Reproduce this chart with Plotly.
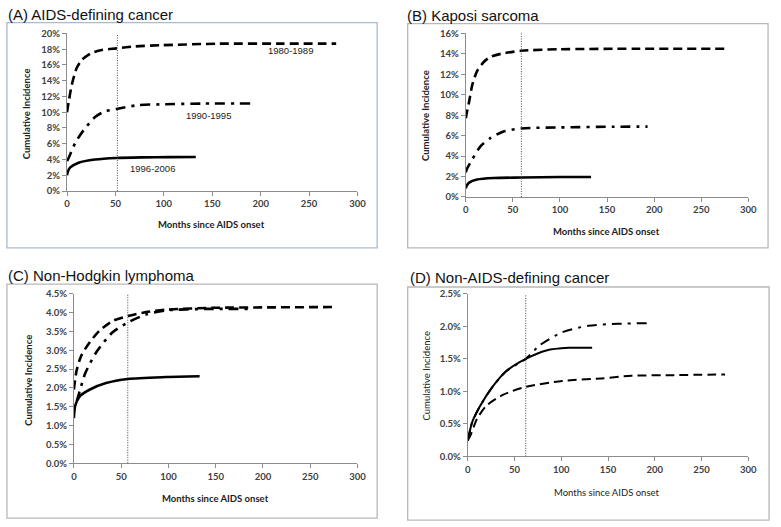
import plotly.graph_objects as go

# ---------------- data (cumulative incidence, %) ----------------
# Panel A: AIDS-defining cancer
a_8089_m = [0, 1.7, 5, 10, 15, 20, 25, 36, 51, 70, 97, 157, 220, 278]
a_8089_v = [10.0, 11.3, 13.5, 15.6, 16.6, 17.1, 17.5, 17.9, 18.1, 18.35, 18.5, 18.7, 18.7, 18.7]
a_9095_m = [0, 1.7, 8.5, 17, 29, 39, 51, 73, 97, 140, 190]
a_9095_v = [3.8, 4.2, 6.1, 7.7, 9.4, 10.1, 10.4, 10.9, 11.0, 11.1, 11.1]
a_9606_m = [0, 1, 3.4, 12, 29, 51, 79, 105, 133]
a_9606_v = [2.0, 2.5, 3.0, 3.6, 4.0, 4.2, 4.27, 4.3, 4.32]

# Panel B: Kaposi sarcoma
b_8089_m = [0, 1, 3.5, 7, 12, 19, 26, 37, 59, 99, 180, 278]
b_8089_v = [7.7, 8.2, 9.3, 11.0, 12.3, 13.2, 13.7, 14.0, 14.3, 14.45, 14.5, 14.5]
b_9095_m = [0, 1, 7, 16, 26, 40, 59, 99, 158, 193]
b_9095_v = [2.4, 2.7, 3.7, 5.0, 5.75, 6.4, 6.7, 6.8, 6.87, 6.88]
b_9606_m = [0, 1, 3.5, 12, 30, 59, 100, 133]
b_9606_v = [0.85, 1.1, 1.4, 1.7, 1.85, 1.9, 1.95, 1.95]

# Panel C: Non-Hodgkin lymphoma
c_8089_m = [0, 3, 8, 17, 27, 41, 57, 73, 97, 149, 200, 275]
c_8089_v = [1.96, 2.48, 2.87, 3.22, 3.52, 3.78, 3.91, 4.0, 4.08, 4.13, 4.14, 4.15]
c_9095_m = [3, 6, 12, 24, 41, 57, 76, 97, 140, 185]
c_9095_v = [1.65, 1.9, 2.39, 2.96, 3.48, 3.74, 3.95, 4.06, 4.1, 4.1]
c_9606_m = [0, 1.4, 6.6, 17, 34, 57, 97, 133]
c_9606_v = [1.2, 1.53, 1.79, 1.96, 2.13, 2.24, 2.29, 2.31]

# Panel D: Non-AIDS-defining cancer
d_8089_m = [0, 2.8, 10, 20, 38, 62, 101, 143, 175, 220, 275]
d_8089_v = [0.25, 0.32, 0.58, 0.78, 0.95, 1.07, 1.16, 1.2, 1.24, 1.25, 1.26]
d_9095_m = [0, 4.6, 13, 27, 41, 62, 77, 101, 129, 161, 193]
d_9095_v = [0.24, 0.52, 0.77, 1.08, 1.31, 1.5, 1.71, 1.91, 2.01, 2.04, 2.05]
d_9606_m = [0, 4.6, 13, 27, 41, 62, 84, 108, 133]
d_9606_v = [0.24, 0.52, 0.77, 1.08, 1.31, 1.5, 1.63, 1.67, 1.67]

median_months = [52, 59, 57, 62]
panel_titles = ["(A) AIDS-defining cancer", "(B) Kaposi sarcoma",
                "(C) Non-Hodgkin lymphoma", "(D) Non-AIDS-defining cancer"]
y_max = [20, 16, 4.5, 2.5]
y_step = [2, 2, 0.5, 0.5]
y_fmt = [".0f", ".0f", ".1f", ".1f"]
period_labels = ["1980-1989", "1990-1995", "1996-2006"]
label_pos_m = [231, 146, 88]
label_pos_v = [17.8, 9.6, 2.9]
x_title = "Months since AIDS onset"
y_title = "Cumulative Incidence"

W, H = 781, 527

def px(x):
    return x / W

def py(y):
    return 1 - y / H

# plot-area pixel boxes (left, right, top, bottom)
areas = [(65, 360, 28, 189), (470, 757, 28, 195), (72, 360, 294, 467), (472, 757, 294, 460)]
boxes = [(4, 380, 17, 247), (411, 777, 18, 247), (4, 380, 284, 523), (411, 778, 287, 525)]
box_colors = ["#a9bccb", "#b8b8b8", "#b8b8b8", "#b8b8b8"]
title_pos = [(3, 9), (408, 10), (3, 275), (411, 277)]
xt_pos = [(212, 223), (613, 230), (216, 503), (613, 497)]
yt_pos = [(24, 110), (429, 112), (25, 382), (430, 378)]

series = [
    [(a_8089_m, a_8089_v), (a_9095_m, a_9095_v), (a_9606_m, a_9606_v)],
    [(b_8089_m, b_8089_v), (b_9095_m, b_9095_v), (b_9606_m, b_9606_v)],
    [(c_8089_m, c_8089_v), (c_9095_m, c_9095_v), (c_9606_m, c_9606_v)],
    [(d_8089_m, d_8089_v), (d_9095_m, d_9095_v), (d_9606_m, d_9606_v)],
]
dashes = ["9px,5px", "10px,6px,3px,6px", "solid"]

fig = go.Figure()
shapes = []
annotations = []
tick_font = dict(family="Lato", size=9.5, color="#404040", weight="bold")

for i in range(4):
    xa = "xaxis" if i == 0 else f"xaxis{i+1}"
    ya = "yaxis" if i == 0 else f"yaxis{i+1}"
    xr = "x" if i == 0 else f"x{i+1}"
    yr = "y" if i == 0 else f"y{i+1}"
    l, r, t, b = areas[i]
    lw = 2.0 if i == 3 else 2.6
    for k, (mm, vv) in enumerate(series[i]):
        fig.add_trace(go.Scatter(
            x=mm, y=vv, mode="lines", xaxis=xr, yaxis=yr, showlegend=False,
            line=dict(color="black", width=lw, dash=dashes[k], shape="spline", smoothing=0.7),
            hoverinfo="skip"))
    fig.update_layout(**{
        xa: dict(domain=[px(l), px(r)], range=[0, 300], tick0=0, dtick=50,
                 showgrid=False, zeroline=False, showline=True, linecolor="#8c8c8c",
                 linewidth=1, ticks="outside", ticklen=4, tickcolor="#8c8c8c",
                 tickfont=tick_font, anchor=yr, fixedrange=True),
        ya: dict(domain=[py(b), py(t)], range=[0, y_max[i]], tick0=0, dtick=y_step[i],
                 tickformat=y_fmt[i], ticksuffix="%", showgrid=False, zeroline=False,
                 showline=True, linecolor="#8c8c8c", linewidth=1, ticks="outside",
                 ticklen=4, tickcolor="#8c8c8c", tickfont=tick_font, anchor=xr,
                 fixedrange=True),
    })
    # vertical dotted median line
    shapes.append(dict(type="line", xref=xr, yref=f"{yr} domain", x0=median_months[i],
                       x1=median_months[i], y0=0, y1=1,
                       line=dict(color="#444444", width=1, dash="1px,1.5px")))
    bl, br, bt, bb = boxes[i]
    shapes.append(dict(type="rect", xref="paper", yref="paper", x0=px(bl), x1=px(br),
                       y0=py(bb), y1=py(bt), line=dict(color=box_colors[i], width=1.3)))
    annotations.append(dict(text=panel_titles[i], xref="paper", yref="paper",
                            x=px(title_pos[i][0]), y=py(title_pos[i][1]),
                            xanchor="left", yanchor="middle", showarrow=False,
                            font=dict(family="Liberation Sans", size=15, color="#111")))
    annotations.append(dict(text=x_title, xref="paper", yref="paper",
                            x=px(xt_pos[i][0]), y=py(xt_pos[i][1]),
                            xanchor="center", yanchor="middle", showarrow=False,
                            font=dict(family="Lato", size=9.5, color="#222",
                                      weight="normal" if i == 3 else "bold")))
    annotations.append(dict(text=y_title, xref="paper", yref="paper",
                            x=px(yt_pos[i][0]), y=py(yt_pos[i][1]), textangle=-90,
                            xanchor="center", yanchor="middle", showarrow=False,
                            font=dict(family="Lato", size=9.5, color="#222",
                                      weight="normal" if i == 3 else "bold")))

for k in range(3):
    annotations.append(dict(text=period_labels[k], xref="x", yref="y",
                            x=label_pos_m[k], y=label_pos_v[k], showarrow=False,
                            xanchor="center", yanchor="middle",
                            font=dict(family="Liberation Sans", size=9.5, color="#222")))

fig.update_layout(width=W, height=H, margin=dict(l=0, r=0, t=0, b=0),
                  paper_bgcolor="white", plot_bgcolor="white",
                  shapes=shapes, annotations=annotations)

fig.write_html("out.html", config={"displayModeBar": False},
               post_script="document.body.style.margin='0';document.body.style.overflow='hidden';")
